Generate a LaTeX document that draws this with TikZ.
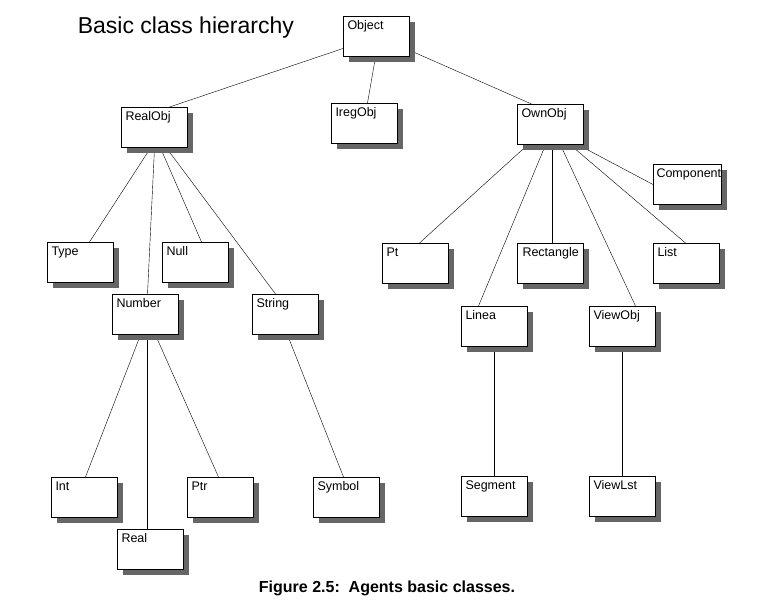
\documentclass[tikz,border=0pt]{standalone}
\usepackage{fontspec}
\setmainfont{Liberation Sans}
\usetikzlibrary{shadows,backgrounds}

\begin{document}
\begin{tikzpicture}[x=1pt, y=-1pt, line width=1pt]
        \tikzstyle{cls} = [draw, rectangle, fill=white, anchor=north west, inner sep=0pt,
          minimum width=66pt, minimum height=40pt,
          drop shadow={shadow xshift=5.5pt, shadow yshift=-5.5pt, fill=black!60, opacity=1}]
        \tikzstyle{clsname} = [anchor=base west, inner sep=0pt, xshift=4pt, yshift=-13pt,
          font=\fontsize{12.5}{14}\selectfont]

        \useasboundingbox (0,0) rectangle (767,606);

        \node [anchor=base west, font=\fontsize{23}{27}\selectfont] (title) at (74,33) {Basic class hierarchy};

        % top level
        \node [cls, label={[clsname]north west:Object}] (object) at (343,16) {};
        \node [cls, label={[clsname]north west:RealObj}] (realobj) at (121,107) {};
        \node [cls, label={[clsname]north west:IregObj}] (iregobj) at (331,103) {};
        \node [cls, label={[clsname]north west:OwnObj}] (ownobj) at (517,104) {};

        % RealObj branch
        \node [cls, label={[clsname]north west:Type}] (type) at (47,242) {};
        \node [cls, label={[clsname]north west:Null}] (null) at (162,242) {};
        \node [cls, label={[clsname]north west:Number}] (number) at (112,294) {};
        \node [cls, label={[clsname]north west:String}] (string) at (252,294) {};
        \node [cls, label={[clsname]north west:Int}] (int) at (51,477) {};
        \node [cls, label={[clsname]north west:Ptr}] (ptr) at (187,477) {};
        \node [cls, label={[clsname]north west:Real}] (real) at (117,529) {};
        \node [cls, label={[clsname]north west:Symbol}] (symbol) at (313,477) {};

        % OwnObj branch
        \node [cls, minimum width=68pt, label={[clsname, xshift=-1pt]north west:Component}] (component) at (653,164) {};
        \node [cls, label={[clsname]north west:Pt}] (pt) at (382,243) {};
        \node [cls, label={[clsname, xshift=1pt]north west:Rectangle}] (rectangle) at (517,243) {};
        \node [cls, label={[clsname]north west:List}] (list) at (653,243) {};
        \node [cls, label={[clsname]north west:Linea}] (linea) at (461,306) {};
        \node [cls, label={[clsname]north west:ViewObj}] (viewobj) at (589,306) {};
        \node [cls, label={[clsname]north west:Segment}] (segment) at (461,476) {};
        \node [cls, label={[clsname]north west:ViewLst}] (viewlst) at (589,476) {};

        \node [anchor=base, font=\bfseries\fontsize{16}{19}\selectfont] (caption) at (387,592) {Figure 2.5:\ \ Agents basic classes.};

        \begin{scope}[on background layer]
          \draw ([yshift=-12pt]object.west) -- ([xshift=15pt]realobj.north);
          \draw ([xshift=-1pt]object.south) -- ([xshift=3pt]iregobj.north);
          \draw ([yshift=-14pt]object.east) -- ([xshift=-19pt]ownobj.north);

          \draw ([xshift=-4pt]realobj.south) -- ([xshift=9pt]type.north);
          \draw (realobj.south) -- ([xshift=2pt]number.north);
          \draw ([xshift=6pt]realobj.south) -- ([xshift=6pt]null.north);
          \draw ([xshift=12pt]realobj.south) -- ([xshift=-10pt]string.north);

          \draw ([xshift=-5pt]number.south) -- ([xshift=1pt]int.north);
          \draw ([xshift=2pt]number.south) -- ([xshift=-3pt]real.north);
          \draw ([xshift=10pt]number.south) -- ([xshift=-2pt]ptr.north);
          \draw ([xshift=2pt]string.south) -- ([xshift=-3pt]symbol.north);

          \draw ([xshift=-23pt]ownobj.south) -- ([xshift=4pt]pt.north);
          \draw ([xshift=-5pt]ownobj.south) -- ([xshift=-16pt]linea.north);
          \draw ([xshift=2pt]ownobj.south) -- ([xshift=2pt]rectangle.north);
          \draw ([xshift=10pt]ownobj.south) -- ([xshift=13pt]viewobj.north);
          \draw ([xshift=20pt]ownobj.south) -- ([xshift=-1pt]list.north);
          \draw ([xshift=28pt]ownobj.south) -- (component.west);

          \draw (linea.south) -- (segment.north);
          \draw (viewobj.south) -- (viewlst.north);
        \end{scope}
    \end{tikzpicture}
\end{document}
